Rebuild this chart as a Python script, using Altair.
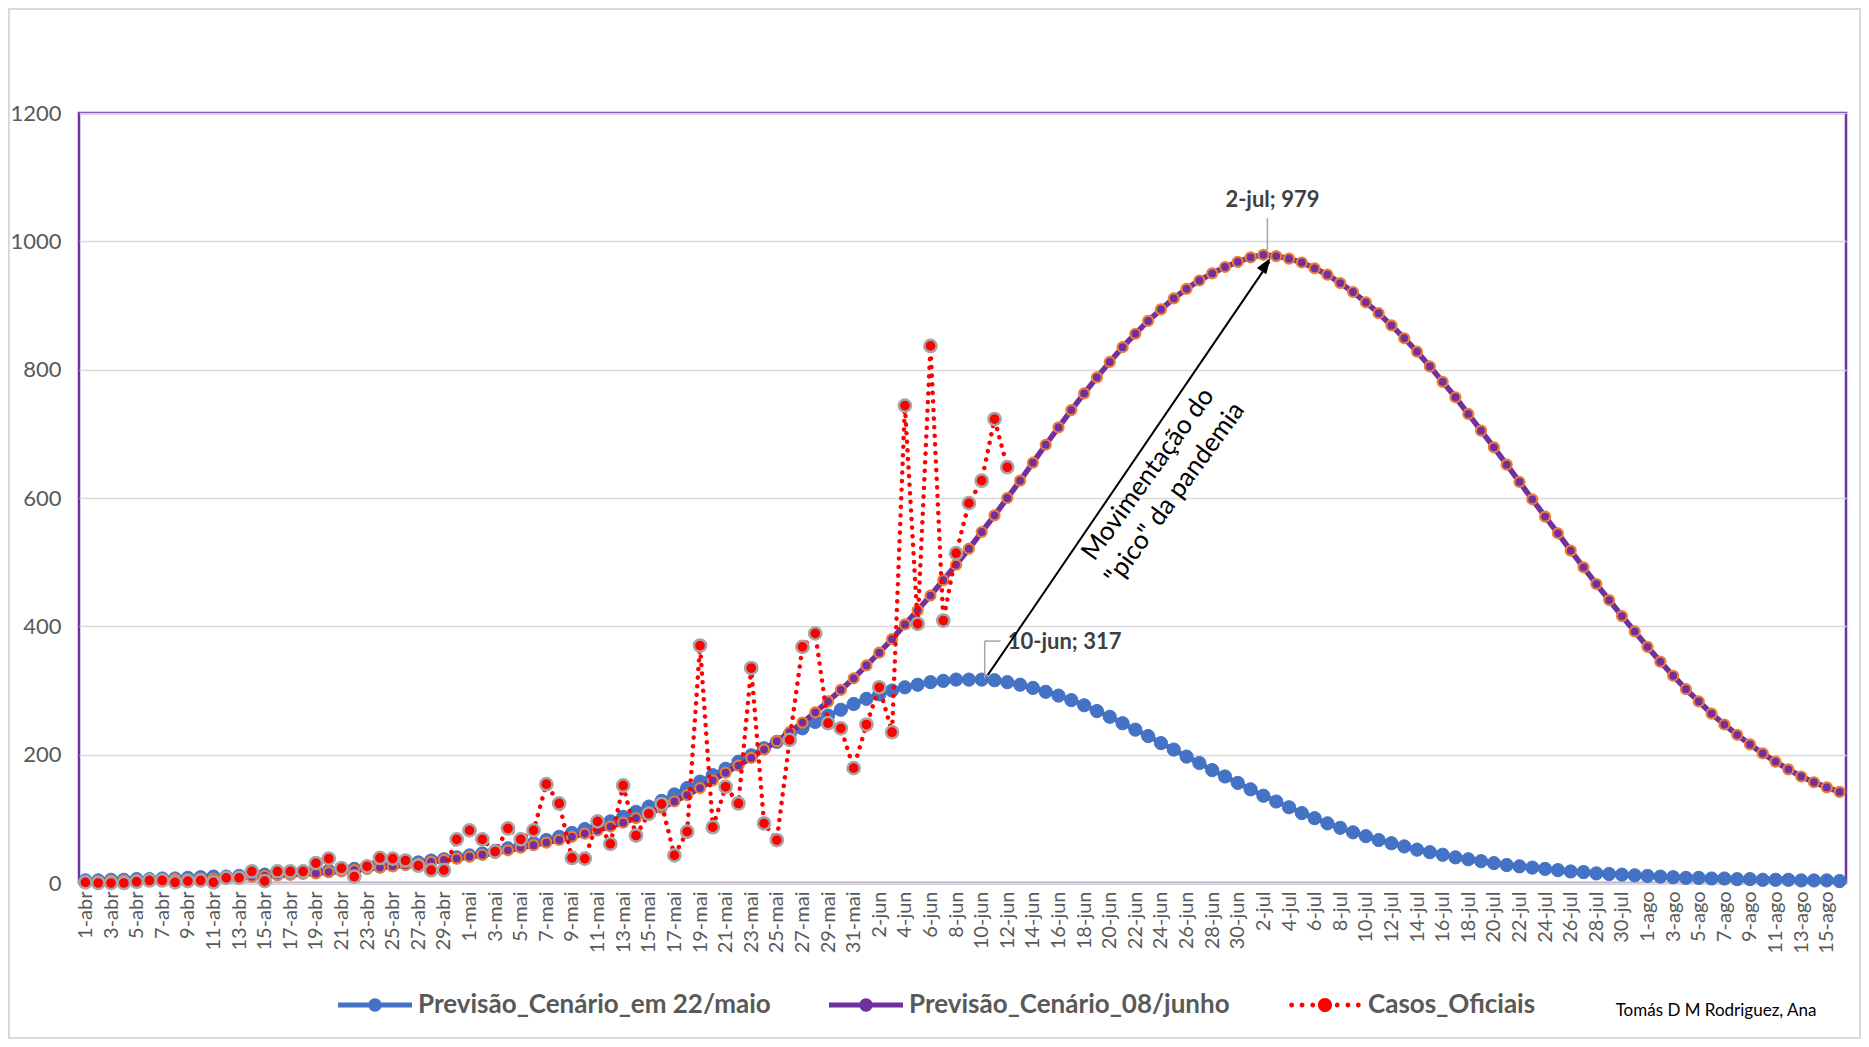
import altair as alt
import pandas as pd

# ---------------- data ----------------
MONTHS = [("abr", 30), ("mai", 31), ("jun", 30), ("jul", 31), ("ago", 16)]
DATES = [f"{d}-{m}" for m, n in MONTHS for d in range(1, n + 1)]
TICK_LABELS = DATES[::2]
Y_TICKS = [0, 200, 400, 600, 800, 1000, 1200]

S1 = "Previsão_Cenário_em 22/maio"
S2 = "Previsão_Cenário_08/junho"
S3 = "Casos_Oficiais"

BLUE_VALUES = [
    4, 4, 5, 5, 6, 6, 7, 7, 8, 9, 10, 10, 11, 12, 13, 14, 15, 17, 18, 19,
    21, 22, 24, 26, 28, 30, 32, 35, 37, 40,
    43, 46, 50, 54, 58, 62, 67, 72, 78, 84,
    90, 96, 103, 111, 119, 128, 138, 148, 158, 168,
    178, 189, 199, 210, 220, 231, 241, 251, 261, 270,
    279, 287, 294, 300, 305, 309, 313, 315, 317, 317,
    317, 316, 313, 309, 304, 298, 292, 285, 277, 268,
    259, 249, 239, 229, 218, 208, 197, 187, 176, 166,
    156, 146, 136, 127, 118, 109, 101, 93, 86, 79,
    73, 67, 62, 57, 52, 48, 44, 40, 37, 34,
    31, 28, 26, 24, 22, 20, 18, 17, 15, 14,
    13, 12, 11, 10, 9, 8, 8, 7, 7, 6,
    6, 5, 5, 5, 4, 4, 4, 3,
]

PURPLE_VALUES = [
    3, 3, 4, 4, 4, 5, 5, 6, 6, 7, 7, 8, 9, 10, 11, 12, 13, 14, 15, 17,
    18, 20, 22, 24, 26, 28, 30, 33, 36, 38,
    41, 44, 47, 51, 55, 59, 63, 67, 72, 77,
    82, 88, 94, 101, 108, 117, 127, 137, 148, 160,
    172, 183, 195, 208, 221, 235, 250, 266, 283, 301,
    319, 339, 359, 380, 403, 425, 448, 472, 496, 521,
    547, 573, 600, 627, 655, 683, 710, 737, 763, 788,
    812, 835, 856, 876, 894, 911, 926, 939, 950, 960,
    968, 975, 979, 977, 973, 967, 958, 948, 935, 921,
    905, 888, 869, 849, 828, 805, 781, 757, 731, 705,
    679, 652, 625, 598, 571, 545, 518, 492, 466, 441,
    416, 392, 368, 345, 323, 302, 283, 264, 247, 231,
    216, 202, 189, 177, 166, 157, 149, 142,
]

RED_VALUES = [
    1, 0, 0, 0, 2, 4, 4, 1, 3, 4, 1, 8, 8, 18, 3, 18, 18, 18, 31, 38,
    23, 10, 26, 39, 38, 35, 27, 20, 20, 68,
    82, 68, 49, 85, 68, 82, 154, 124, 39, 38,
    96, 61, 152, 74, 108, 123, 43, 80, 370, 87,
    150, 124, 335, 93, 67, 223, 368, 389, 249, 241,
    179, 247, 305, 235, 744, 404, 837, 409, 514, 592,
    627, 723, 648,
]

assert len(DATES) == len(BLUE_VALUES) == len(PURPLE_VALUES) == 138
assert len(RED_VALUES) == 73

# ---------------- styles ----------------
C_BLUE = "#4472C4"
C_PURPLE = "#7030A0"
C_ORANGE = "#ED7D31"
C_RED = "#FF0000"
C_GREY = "#A5A5A5"
TXT = "#595959"
FONT = "Lato"

rows = []
for d, v in zip(DATES, BLUE_VALUES):
    rows.append({"date": d, "value": v, "serie": S1})
for d, v in zip(DATES, PURPLE_VALUES):
    rows.append({"date": d, "value": v, "serie": S2})
for d, v in zip(DATES, RED_VALUES):
    rows.append({"date": d, "value": v, "serie": S3})
df = pd.DataFrame(rows)

X = alt.X(
    "date:O",
    scale=alt.Scale(type="point", padding=0.5, domain=DATES),
    axis=alt.Axis(
        values=TICK_LABELS, labelAngle=270, title=None, labelFont=FONT,
        labelFontSize=20, labelColor=TXT, labelPadding=8, ticks=False,
        domain=True, domainColor="#D9D9D9", domainWidth=2.5, grid=False,
        labelOverlap=False,
    ),
)
Y = alt.Y(
    "value:Q",
    scale=alt.Scale(domain=[0, 1200], nice=False),
    axis=alt.Axis(
        values=Y_TICKS, format="d", title=None, labelFont=FONT, labelFontSize=22,
        labelColor=TXT, labelPadding=18, ticks=False, domain=False,
        grid=True, gridColor="#D9D9D9", gridWidth=1.5,
    ),
)

# legend symbols: line + marker paths
def circ(cx, r):
    return (f"M{cx - r:.3f},0 a{r},{r} 0 1,1 {2 * r},0 "
            f"a{r},{r} 0 1,1 {-2 * r},0 Z ")

LINE_SYM = "M-1,-0.07 L1,-0.07 L1,0.07 L-1,0.07 Z " + circ(0, 0.18)
DOT_SYM = "".join(circ(c, 0.065) for c in [-0.9, -0.62, -0.33, 0.33, 0.62, 0.9]) + circ(0, 0.19)

legend = alt.Legend(
    orient="none", legendX=259, legendY=855, direction="horizontal",
    title=None, labelFont=FONT, labelFontSize=26, labelFontWeight="bold",
    labelColor=TXT, labelLimit=800, labelOffset=6, columnPadding=58,
    symbolSize=5476, symbolStrokeWidth=0, symbolOpacity=1,
)

color_scale = alt.Scale(domain=[S1, S2, S3], range=[C_BLUE, C_PURPLE, C_RED])
shape_scale = alt.Scale(domain=[S1, S2, S3], range=[LINE_SYM, LINE_SYM, DOT_SYM])

base = alt.Chart(df)

# outer chart frame (Excel chart area border)
frame = alt.Chart(pd.DataFrame({"k": [0]})).mark_rect(
    fillOpacity=0, stroke="#D9D9D9", strokeWidth=2
).encode(
    x=alt.value(-70), x2=alt.value(1781), y=alt.value(-104), y2=alt.value(925)
)

# legend-only layer (no rows drawn)
legend_layer = base.transform_filter("false").mark_point(
    filled=True, opacity=1
).encode(
    x=X, y=Y,
    color=alt.Color("serie:N", scale=color_scale, legend=legend),
    shape=alt.Shape("serie:N", scale=shape_scale, legend=legend),
)

blue_line = base.transform_filter(alt.datum.serie == S1).mark_line(
    strokeWidth=5, color=C_BLUE
).encode(x=X, y=Y)
blue_pts = base.transform_filter(alt.datum.serie == S1).mark_point(
    shape="circle", filled=True, fill=C_BLUE, stroke=C_BLUE, strokeWidth=1,
    size=175, opacity=1
).encode(x=X, y=Y)

purple_line = base.transform_filter(alt.datum.serie == S2).mark_line(
    strokeWidth=5.5, color=C_PURPLE
).encode(x=X, y=Y)
purple_pts = base.transform_filter(alt.datum.serie == S2).mark_point(
    shape="circle", filled=True, fill=C_PURPLE, stroke=C_ORANGE, strokeWidth=2.2,
    size=100, opacity=1
).encode(x=X, y=Y)

red_line = base.transform_filter(alt.datum.serie == S3).mark_line(
    strokeWidth=4.5, color=C_RED, strokeDash=[0.1, 8.5], strokeCap="round"
).encode(x=X, y=Y)
red_pts = base.transform_filter(alt.datum.serie == S3).mark_point(
    shape="circle", filled=True, fill=C_RED, stroke=C_GREY, strokeWidth=2.5,
    size=150, opacity=1
).encode(x=X, y=Y)

# ---------------- annotations ----------------
PEAK1_DATE, PEAK1_VAL = "10-jun", 317
PEAK2_DATE, PEAK2_VAL = "2-jul", 979

lbl2 = alt.Chart(pd.DataFrame({"date": [PEAK2_DATE], "value": [1064],
                               "t": [f"{PEAK2_DATE}; {PEAK2_VAL}"]})).mark_text(
    font=FONT, fontSize=22, fontWeight="bold", color="#404040", dx=9,
    align="center", baseline="middle"
).encode(x=X, y=Y, text="t:N")
lead2 = alt.Chart(pd.DataFrame({"date": [PEAK2_DATE], "value": [986], "v2": [1036]})).mark_rule(
    color=C_GREY, strokeWidth=1.5, xOffset=4
).encode(x=X, y=Y, y2="v2:Q")

lbl1 = alt.Chart(pd.DataFrame({"date": [PEAK1_DATE], "value": [375],
                               "t": [f"{PEAK1_DATE}; {PEAK1_VAL}"]})).mark_text(
    font=FONT, fontSize=22, fontWeight="bold", color="#404040", dx=26,
    align="left", baseline="middle"
).encode(x=X, y=Y, text="t:N")
lead1a = alt.Chart(pd.DataFrame({"date": [PEAK1_DATE], "value": [319], "v2": [377]})).mark_rule(
    color=C_GREY, strokeWidth=1.5, xOffset=3
).encode(x=X, y=Y, y2="v2:Q")
lead1b = alt.Chart(pd.DataFrame({"date": [PEAK1_DATE], "d2": ["11-jun"], "value": [377]})).mark_rule(
    color=C_GREY, strokeWidth=1.5, xOffset=3, x2Offset=6
).encode(x=X, x2="d2:O", y=Y)

arrow_line = alt.Chart(pd.DataFrame({"date": [PEAK1_DATE, PEAK2_DATE],
                                     "value": [324, 968], "o": [0, 1]})).mark_line(
    color="black", strokeWidth=2, xOffset=6
).encode(x=X, y=Y, order="o:Q")
arrow_head = alt.Chart(pd.DataFrame({"date": [PEAK2_DATE], "value": [974]})).mark_point(
    shape="M0,0 L0.36,1 L-0.36,1 Z", size=1000, angle=34, filled=True,
    color="black", opacity=1, strokeWidth=0, xOffset=7
).encode(x=X, y=Y)

move_txt = alt.Chart(pd.DataFrame({"date": ["23-jun"], "value": [637]})).mark_text(
    text="Movimentação do\n\"pico\" da pandemia", lineBreak="\n", lineHeight=33,
    font=FONT, fontSize=26, color="black", angle=306, align="center",
    baseline="middle"
).encode(x=X, y=Y)

credit = alt.Chart(pd.DataFrame({"t": ["Tomás D M Rodriguez, Ana"]})).mark_text(
    font=FONT, fontSize=17, color="#000000", align="center", baseline="middle"
).encode(x=alt.value(1637), y=alt.value(898), text="t:N")

chart = alt.layer(
    frame, legend_layer,
    blue_line, blue_pts, purple_line, purple_pts, red_line, red_pts,
    lead2, lbl2, lead1a, lead1b, lbl1, arrow_line, arrow_head, move_txt, credit
).properties(
    width=1767, height=770,
    padding={"left": 0, "top": 0, "right": 0, "bottom": 0},
).configure(font=FONT).configure_view(
    stroke=C_PURPLE, strokeWidth=2.5
)

chart.save("out.html", embed_options={"renderer": "svg", "actions": False})
